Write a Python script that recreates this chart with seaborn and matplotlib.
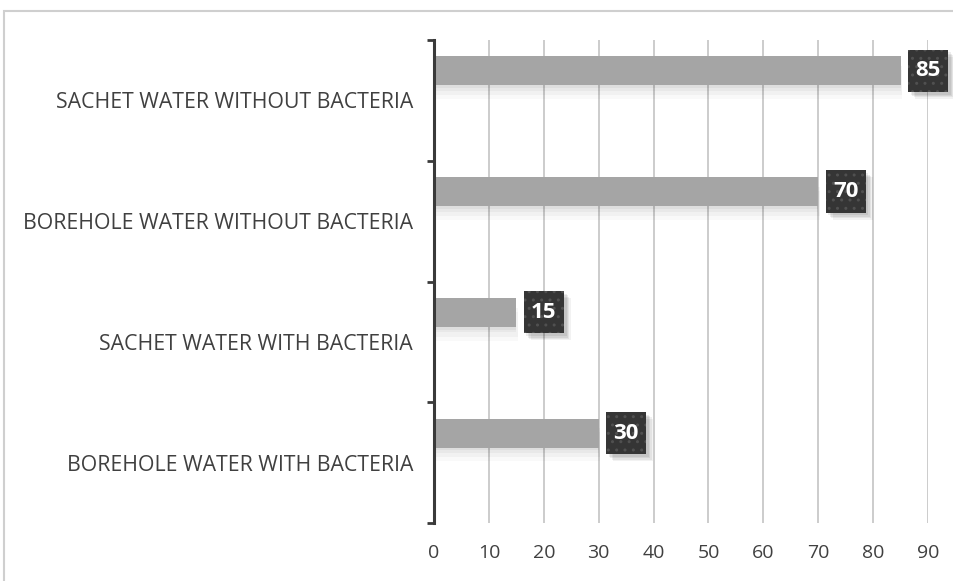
import matplotlib
matplotlib.use("Agg")
import matplotlib.pyplot as plt
import matplotlib.patheffects as pe
from matplotlib.patches import Rectangle
import seaborn as sns
import pandas as pd

categories = [
    "SACHET WATER WITHOUT BACTERIA",
    "BOREHOLE WATER WITHOUT BACTERIA",
    "SACHET WATER WITH BACTERIA",
    "BOREHOLE WATER WITH BACTERIA",
]
values = [85, 70, 15, 30]
x_ticks = [0, 10, 20, 30, 40, 50, 60, 70, 80, 90]

df = pd.DataFrame({"category": categories, "value": values})


class PlainShadow(pe.SimplePatchShadow):
    """Drop shadow that ignores the hatch of the patch it follows."""

    def draw_path(self, renderer, gc, tpath, affine, rgbFace):
        gc0 = renderer.new_gc()
        gc0.copy_properties(gc)
        gc0.set_hatch(None)
        super().draw_path(renderer, gc0, tpath, affine, rgbFace)
        gc0.restore()


sns.set_theme(style="white")
plt.rcParams["font.family"] = ["Open Sans", "DejaVu Sans"]

fig = plt.figure(figsize=(9.54, 5.81), dpi=100)
ax = fig.add_axes([434 / 954, 1 - 523 / 581, (928 - 434) / 954, (523 - 40) / 581])

sns.barplot(data=df, y="category", x="value", order=categories, orient="h",
            color="#a5a5a5", saturation=1, width=0.24, ax=ax, zorder=3)

# bars sit in the upper part of each category band, with a soft drop shadow
bar_shift = 0.245
soft_shadow = [
    pe.SimplePatchShadow(offset=(1, -10), shadow_rgbFace="black", alpha=0.025),
    pe.SimplePatchShadow(offset=(1, -7), shadow_rgbFace="black", alpha=0.03),
    pe.SimplePatchShadow(offset=(0, -4), shadow_rgbFace="black", alpha=0.035),
    pe.SimplePatchShadow(offset=(0, -2), shadow_rgbFace="black", alpha=0.04),
    pe.Normal(),
]
for patch in ax.patches:
    patch.set_y(patch.get_y() - bar_shift)
    patch.set_edgecolor("none")
    patch.set_path_effects(soft_shadow)

ax.set_xlim(0, 90)
ax.set_ylim(3.5, -0.5)
ax.set_xticks(x_ticks)
ax.set_xticklabels([str(t) for t in x_ticks])
ax.set_yticks([i - 0.5 for i in range(len(categories) + 1)], minor=False)
ax.set_yticklabels([])
ax.set_yticks(range(len(categories)), minor=True)
ax.set_yticklabels(categories, minor=True)

ax.tick_params(axis="y", which="major", direction="out", length=5, width=2,
               color="#3a3a3a", left=True)
ax.tick_params(axis="y", which="minor", length=0, pad=15, labelsize=15.3,
               labelcolor="#404040")
ax.tick_params(axis="x", length=0, pad=15, labelsize=14, labelcolor="#404040")

ax.grid(axis="x", color="#c8c8c8", linewidth=1.3, zorder=0)
ax.grid(axis="y", visible=False)
ax.set_axisbelow(True)
for side in ["top", "right", "bottom"]:
    ax.spines[side].set_visible(False)
ax.spines["left"].set_color("#3a3a3a")
ax.spines["left"].set_linewidth(2.2)
ax.spines["left"].set_zorder(5)
ax.set_xlabel("")
ax.set_ylabel("")

# value labels in dark dotted boxes beside each bar
box_shadow = [
    PlainShadow(offset=(2, -2), shadow_rgbFace="black", alpha=0.07),
    PlainShadow(offset=(3, -3), shadow_rgbFace="black", alpha=0.07),
    PlainShadow(offset=(4, -4), shadow_rgbFace="black", alpha=0.06),
    PlainShadow(offset=(5, -5), shadow_rgbFace="black", alpha=0.05),
    pe.Normal(),
]
for i, v in enumerate(values):
    label = ax.annotate(str(v), xy=(v, i - bar_shift), xytext=(10.6, 0),
                        textcoords="offset points", ha="left", va="center",
                        fontsize=16, fontweight="bold", color="white", zorder=7,
                        annotation_clip=False,
                        bbox=dict(boxstyle="square,pad=0.33", fc="#353535",
                                  ec="#505050", lw=0, hatch="..",
                                  mutation_aspect=1.45))
    label.get_bbox_patch().set_path_effects(box_shadow)

# light frame around the chart area
fig.patches.append(Rectangle((4 / 954, -0.05), 1.2, 1.05 - 11 / 581,
                             transform=fig.transFigure, fill=False,
                             edgecolor="#cfcfcf", linewidth=1.5))

fig.savefig("out.png", dpi=100)
